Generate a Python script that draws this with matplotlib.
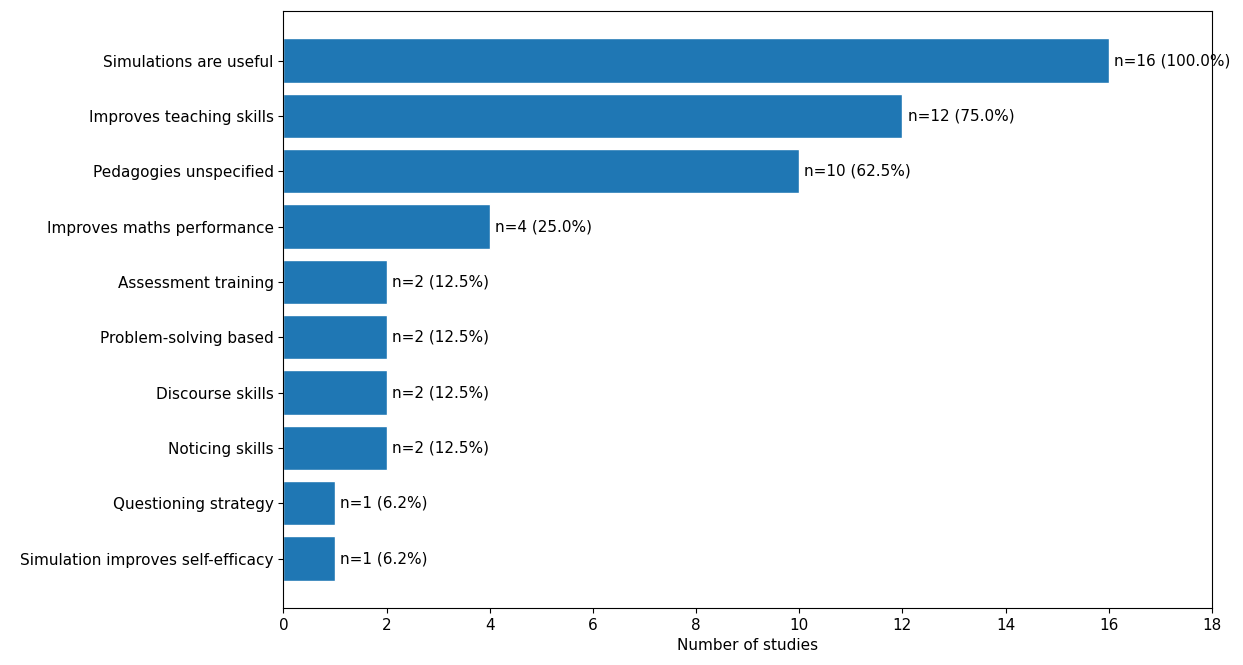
import matplotlib
matplotlib.use("Agg")
import matplotlib.pyplot as plt

labels = ["Simulations are useful", "Improves teaching skills", "Pedagogies unspecified",
          "Improves maths performance", "Assessment training", "Problem-solving based",
          "Discourse skills", "Noticing skills", "Questioning strategy",
          "Simulation improves self-efficacy"]
counts = [16, 12, 10, 4, 2, 2, 2, 2, 1, 1]
total = 16

fig = plt.figure(figsize=(12.43, 6.65), dpi=100)
ax = fig.add_axes([0.228, 0.086, 0.747, 0.897])
y = list(range(len(labels)))[::-1]
ax.barh(y, counts, height=0.8, color="#1f77b4", edgecolor="white")
for yi, c in zip(y, counts):
    ax.text(c + 0.1, yi, f"n={c} ({c/total*100:.1f}%)", va="center", fontsize=11)
ax.set_yticks(y)
ax.set_yticklabels(labels, fontsize=11)
ax.set_xlim(0, 18)
ax.set_xticks(range(0, 19, 2))
ax.tick_params(axis="x", labelsize=11)
ax.set_xlabel("Number of studies", fontsize=11)
fig.savefig("out.png")
